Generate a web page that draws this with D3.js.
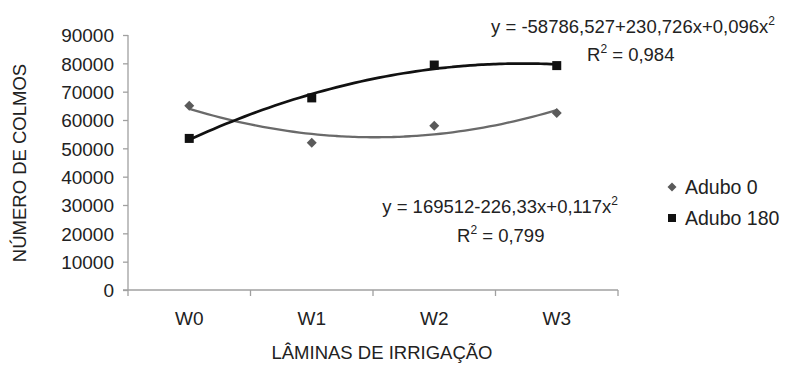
<!DOCTYPE html>
<html><head><meta charset="utf-8">
<script src="https://cdn.jsdelivr.net/npm/d3@7"></script>
<style>
html,body{margin:0;padding:0;background:#fff;}
text{font-family:"Liberation Sans",Arial,sans-serif;fill:#222;}
</style></head>
<body><svg id="c" width="785" height="365"></svg>
<script>
const categories = ["W0","W1","W2","W3"];
const adubo0 = [65000, 52000, 58000, 62500];
const adubo180 = [53500, 67800, 79400, 79200];
const yTicks = [0,10000,20000,30000,40000,50000,60000,70000,80000,90000];
const seriesNames = ["Adubo 0","Adubo 180"];
const eq0 = ["y = 169512-226,33x+0,117x", "R", " = 0,799"];
const eq180 = ["y = -58786,527+230,726x+0,096x", "R", " = 0,984"];

const svg = d3.select("#c");
const x = d3.scaleBand().domain(categories).range([128, 618]);
const y = d3.scaleLinear().domain([0, 90000]).range([290, 35]);
const cx = d => x(d) + x.bandwidth()/2;

// axes
const yAx = svg.append("g").attr("transform","translate(128,0)")
  .call(d3.axisLeft(y).tickValues(yTicks).tickSize(5).tickPadding(9).tickFormat(d3.format("d")));
const xAx = svg.append("g").attr("transform","translate(0,290)")
  .call(d3.axisBottom(x).tickSize(0).tickPadding(22));
[yAx,xAx].forEach(g=>{
  g.select(".domain").attr("stroke","#a0a0a0").attr("stroke-width",1.3);
  g.selectAll(".tick line").attr("stroke","#a0a0a0").attr("stroke-width",1.3);
  g.selectAll("text").attr("font-size",19).attr("fill","#222")
   .attr("font-family","Liberation Sans, Arial, sans-serif");
});
yAx.selectAll("text").attr("dy","0.36em");
yAx.select(".domain").attr("d","M0,35V290");
// x band boundary ticks
xAx.selectAll(".bt").data(x.range().concat(categories.slice(1).map(c=>x(c))))
  .enter().append("line").attr("x1",d=>d).attr("x2",d=>d).attr("y1",0).attr("y2",6)
  .attr("stroke","#a0a0a0").attr("stroke-width",1.3);
xAx.select(".domain").attr("d","M123,0H618");

// quadratic least squares fit over category index
function quadFit(vals){
  const xs=vals.map((_,i)=>i);
  let S=[0,0,0,0,0], T=[0,0,0];
  xs.forEach((xi,i)=>{for(let k=0;k<5;k++)S[k]+=Math.pow(xi,k);for(let k=0;k<3;k++)T[k]+=Math.pow(xi,k)*vals[i];});
  const A=[[S[0],S[1],S[2],T[0]],[S[1],S[2],S[3],T[1]],[S[2],S[3],S[4],T[2]]];
  for(let i=0;i<3;i++){for(let j=i+1;j<3;j++){const f=A[j][i]/A[i][i];for(let k=i;k<4;k++)A[j][k]-=f*A[i][k];}}
  const c=[0,0,0];
  for(let i=2;i>=0;i--){let s=A[i][3];for(let k=i+1;k<3;k++)s-=A[i][k]*c[k];c[i]=s/A[i][i];}
  return t=>c[0]+c[1]*t+c[2]*t*t;
}
const xi = d3.scaleLinear().domain([0,3]).range([cx("W0"), cx("W3")]);
function drawTrend(vals,color,w){
  const f=quadFit(vals);
  const pts=d3.range(0,3.0001,0.05).map(t=>[xi(t), y(f(t))]);
  svg.append("path").attr("d",d3.line().curve(d3.curveBasis)(pts))
    .attr("fill","none").attr("stroke",color).attr("stroke-width",w);
}
drawTrend(adubo0,"#6a6a6a",2.3);
drawTrend(adubo180,"#111",2.7);

const diamond = r => `M0,${-r}L${r},0L0,${r}L${-r},0Z`;
// markers
svg.selectAll(".d0").data(adubo0).enter().append("path")
  .attr("d",diamond(5))
  .attr("transform",(d,i)=>`translate(${cx(categories[i])},${y(d)})`)
  .attr("fill","#5a5a5a");
svg.selectAll(".d180").data(adubo180).enter().append("rect")
  .attr("x",(d,i)=>cx(categories[i])-4.5).attr("y",d=>y(d)-4.5)
  .attr("width",9).attr("height",9).attr("fill","#111");

// axis titles
svg.append("text").attr("x",382).attr("y",359).attr("text-anchor","middle")
  .attr("font-size",18.5).text("LÂMINAS DE IRRIGAÇÃO");
svg.append("text").attr("transform","translate(26,163) rotate(-90)").attr("text-anchor","middle")
  .attr("font-size",18.5).text("NÚMERO DE COLMOS");

// equations
function eq(parts,xr0,y1,xr,y2){
  const t=svg.append("text").attr("x",xr0).attr("y",y1).attr("font-size",18.5).attr("text-anchor","end");
  t.append("tspan").text(parts[0]);
  t.append("tspan").attr("dy",-8).attr("font-size",12).text("2");
  const r=svg.append("text").attr("x",xr).attr("y",y2).attr("font-size",18.5);
  r.append("tspan").text(parts[1]);
  r.append("tspan").attr("dy",-8).attr("font-size",12).text("2");
  r.append("tspan").attr("dy",8).text(parts[2]);
}
eq(eq180,775,33,587,61);
eq(eq0,618,213,457,242);

// legend
const lg = svg.append("g");
lg.append("path").attr("d",diamond(4.5))
  .attr("transform","translate(672,187)").attr("fill","#5a5a5a");
lg.append("rect").attr("x",668).attr("y",214).attr("width",8).attr("height",8).attr("fill","#111");
lg.append("text").attr("x",685).attr("y",194).attr("font-size",19.5).text(seriesNames[0]);
lg.append("text").attr("x",685).attr("y",225).attr("font-size",19.5).text(seriesNames[1]);
</script></body></html>
